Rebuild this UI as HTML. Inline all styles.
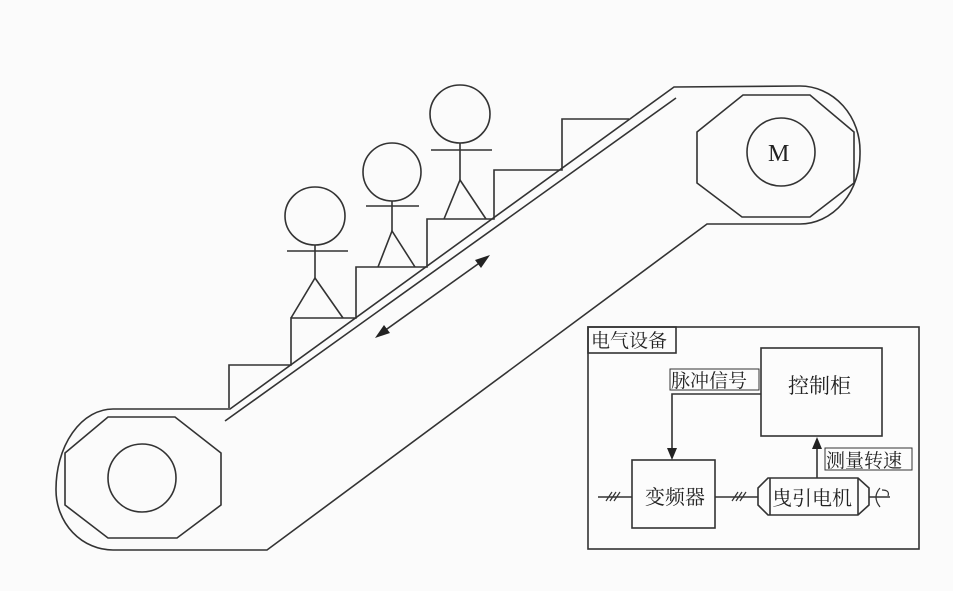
<!DOCTYPE html>
<html><head><meta charset="utf-8"><style>
html,body{margin:0;padding:0;background:#fbfbfb;}
svg{display:block}
text{font-family:"Liberation Serif","Noto Serif CJK SC","Noto Sans CJK SC",serif;fill:#222}
</style></head><body>
<svg width="953" height="591" viewBox="0 0 953 591" xmlns="http://www.w3.org/2000/svg">
<rect width="953" height="591" fill="#fbfbfb"/>
<g fill="none" stroke="#333" stroke-width="1.6">
<path d="M230,409 L674,87 L800,86 A60,65 0 0 1 860,153 A60,70 0 0 1 800,224 L707,224 L267,550 L113,550 A57,60 0 0 1 56,490 A57,80 0 0 1 113,409 Z"/>
<line x1="225" y1="421" x2="676" y2="98"/>
<path d="M229,408 L229,365 L291,365 L291,318 L356,318 L356,267 L427,267 L427,219 L494,219 L494,170 L562,170 L562,119 L629,119"/>
<polygon points="743,95 810,95 854,132 854,183 810,217 742,217 697,183 697,132"/>
<circle cx="781" cy="152" r="34"/>
<polygon points="108,417 175,417 221,453 221,505 177,538 108,538 65,505 65,453"/>
<circle cx="142" cy="478" r="34"/>
<ellipse cx="315" cy="216" rx="30" ry="29"/>
<line x1="315" y1="245" x2="315" y2="278"/><line x1="287" y1="251" x2="348" y2="251"/>
<path d="M291,318 L315,278 L343,318"/>
<ellipse cx="392" cy="172" rx="29" ry="29"/>
<line x1="392" y1="201" x2="392" y2="231"/><line x1="366" y1="206" x2="419" y2="206"/>
<path d="M378,267 L392,231 L415,267"/>
<ellipse cx="460" cy="114" rx="30" ry="29"/>
<line x1="460" y1="143" x2="460" y2="180"/><line x1="431" y1="150" x2="492" y2="150"/>
<path d="M444,219 L460,180 L486,219"/>
<line x1="380" y1="334" x2="485" y2="259"/>
</g>
<polygon points="375,338 384,325 390,333" fill="#222"/>
<polygon points="490,255 481,268 475,260" fill="#222"/>
<g fill="none" stroke="#333" stroke-width="1.6">
<rect x="588" y="327" width="331" height="222" fill="#fcfcfc"/>
<rect x="588" y="327" width="88" height="26"/>
<rect x="761" y="348" width="121" height="88"/>
<rect x="670" y="369" width="89" height="21" stroke-width="1"/>
<path d="M761,394 L672,394 L672,452"/>
<rect x="632" y="460" width="83" height="68"/>
<rect x="825" y="448" width="87" height="22" stroke-width="1"/>
<line x1="817" y1="478" x2="817" y2="445"/>
<polygon points="768,478 858,478 869,488 869,505 858,515 768,515 758,505 758,488"/>
<line x1="770" y1="478" x2="770" y2="515"/><line x1="858" y1="478" x2="858" y2="515"/>
<line x1="598" y1="497" x2="632" y2="497"/>
<line x1="715" y1="497" x2="758" y2="497"/>
<line x1="869" y1="497" x2="890" y2="497"/>
<path d="M880,488 Q872,497 880,507" stroke-width="1.2"/>
<path d="M882,490 Q890,490 888,496" stroke-width="1.2"/>
</g>
<g stroke="#333" stroke-width="1.2">
<line x1="606" y1="501" x2="612" y2="492"/><line x1="610" y1="501" x2="616" y2="492"/><line x1="614" y1="501" x2="620" y2="492"/>
<line x1="732" y1="501" x2="738" y2="492"/><line x1="736" y1="501" x2="742" y2="492"/><line x1="740" y1="501" x2="746" y2="492"/>
</g>
<polygon points="672,460 667,448 677,448" fill="#222"/>
<polygon points="817,437 812,449 822,449" fill="#222"/>
<text x="768" y="161" font-size="24">M</text>
<text x="591" y="347" font-size="19">电气设备</text>
<text x="671" y="387" font-size="19">脉冲信号</text>
<text x="788" y="393" font-size="21">控制柜</text>
<text x="826" y="467" font-size="19">测量转速</text>
<text x="645" y="504" font-size="20">变频器</text>
<text x="772" y="505" font-size="20">曳引电机</text>
</svg>
</body></html>
